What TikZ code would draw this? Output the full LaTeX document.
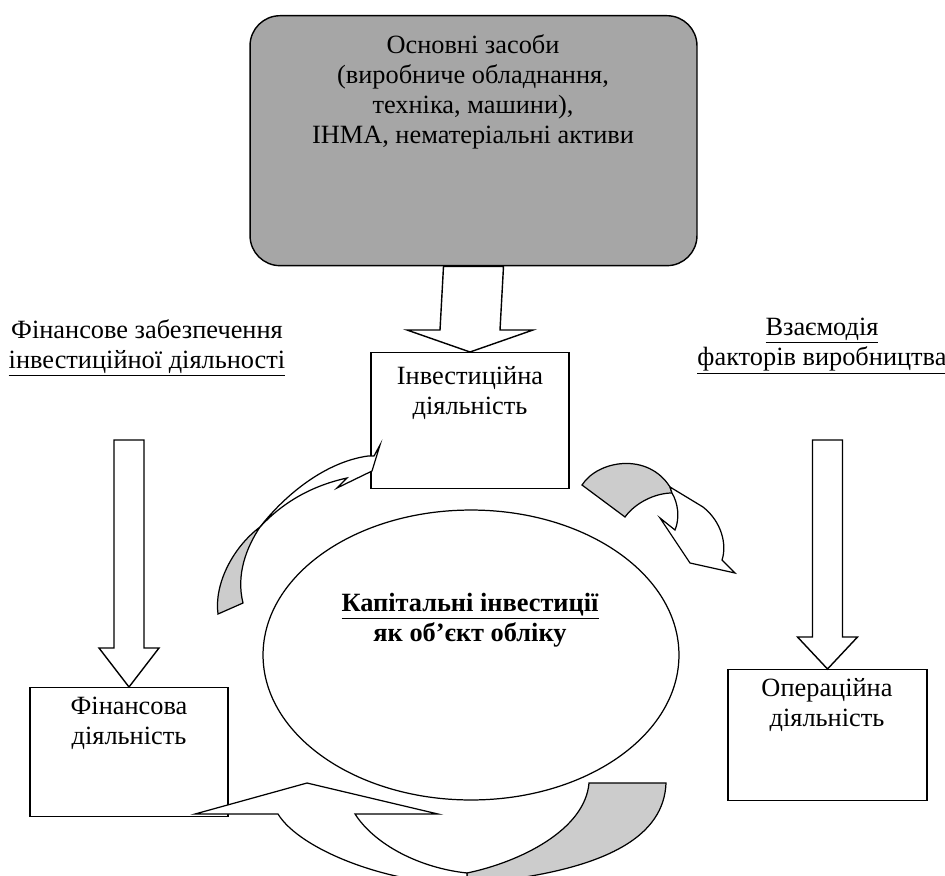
\documentclass[tikz,border=0pt]{standalone}
\usepackage{fontspec}
\setmainfont{Liberation Serif}
\usetikzlibrary{calc,shapes.geometric}

\definecolor{osngray}{RGB}{166,166,166}
\definecolor{tailgray}{RGB}{204,204,204}

\newcommand{\blockarrow}[5]{%
\draw[blockarr] (#2) -- ($(#2)+(-#4,-#5)$) -- ($(#2)+(-#3,-#5)$) -- ($(#1)+(-#3,0)$)
  -- ($(#1)+(#3,0)$) -- ($(#2)+(#3,-#5)$) -- ($(#2)+(#4,-#5)$) -- cycle;}

\begin{document}
\begin{tikzpicture}%
[x=0.02cm, y=-0.02cm,%
font=\fontsize{15}{17}\selectfont,%
box/.style={draw, line width=0.8pt, fill=white, inner sep=0pt, anchor=north},%
txt/.style={align=center, inner sep=0pt},%
blockarr/.style={draw, line width=0.8pt, fill=white, line join=miter},%
front/.style={draw, line width=0.7pt, fill=white, line join=miter},%
back/.style={draw, line width=0.7pt, fill=tailgray, line join=miter}]

\useasboundingbox (0,0) rectangle (945,875);
\clip (0,0) rectangle (945,875);

% boxes
\node[box, fill=osngray, rounded corners=0.6cm, minimum width=8.94cm, minimum height=5cm] (osn) at (473.5,15) {};
\node[box, minimum width=3.96cm, minimum height=2.72cm] (inv) at (470,352) {};
\node[box, minimum width=3.96cm, minimum height=2.58cm] (fin) at (129,687) {};
\node[box, minimum width=3.98cm, minimum height=2.62cm] (oper) at (827.5,669) {};
\node[draw, line width=0.7pt, ellipse, minimum width=8.32cm, minimum height=5.8cm] (kap) at (471,655) {};

\coordinate (fintop) at (129,440);
\coordinate (opertop) at (827.5,440);

% block arrows
\blockarrow{osn.south}{inv.north}{30}{63}{22}
\blockarrow{fintop}{fin.north}{15}{30}{39}
\blockarrow{opertop}{oper.north}{15}{30}{32}

% curved arrows
\draw[back] (218,614) .. controls (214,585) and (232,548) .. (260,527)
  .. controls (246,548) and (236,575) .. (243,603) -- cycle;
\draw[front] (260,527) .. controls (285,495) and (325,462) .. (368,456) -- (374,456) -- (380,445)
  -- (372,471) -- (337,488) -- (347,478) .. controls (315,485) and (285,500) .. (260,527) -- cycle;

\draw[back] (582,485) .. controls (598,460) and (648,452) .. (670,487) -- (672,493)
  .. controls (655,493) and (635,503) .. (625,517) -- cycle;
\draw[front] (670,487) -- (703,507) .. controls (722,522) and (727,545) .. (722,560) -- (735,573)
  -- (690,563) -- (660,518) -- (675,530) .. controls (680,518) and (678,503) .. (672,493) -- cycle;

\draw[back] (589,783) -- (666,783) .. controls (664,835) and (610,872) .. (467,884)
  -- (467,873) .. controls (520,862) and (585,830) .. (589,783) -- cycle;
\draw[front] (355,814) -- (438,814) -- (307,783) -- (195,814) -- (278,814)
  .. controls (300,850) and (390,885) .. (467,884) -- (467,873)
  .. controls (420,868) and (375,845) .. (355,814) -- cycle;

% texts
\node[txt] (osntxt) at (473,92) {Основні засоби\\(виробниче обладнання,\\техніка, машини),\\ІНМА, нематеріальні активи};
\node[txt] (invtxt) at (470,393) {Інвестиційна\\діяльність};
\node[txt] (fintxt) at (129,723) {Фінансова\\діяльність};
\node[txt] (opertxt) at (827,705) {Операційна\\діяльність};
\node[txt, font=\fontsize{15}{17}\selectfont\bfseries] (kaptxt) at (470,620) {\underline{Капітальні інвестиції}\\як об’єкт обліку};
\node[txt] (finzab) at (147,348) {Фінансове забезпечення\\\underline{інвестиційної діяльності}};
\node[txt] (vzaem) at (822,346) {\underline{Взаємодія}\\\underline{факторів виробництва}};
\end{tikzpicture}
\end{document}
